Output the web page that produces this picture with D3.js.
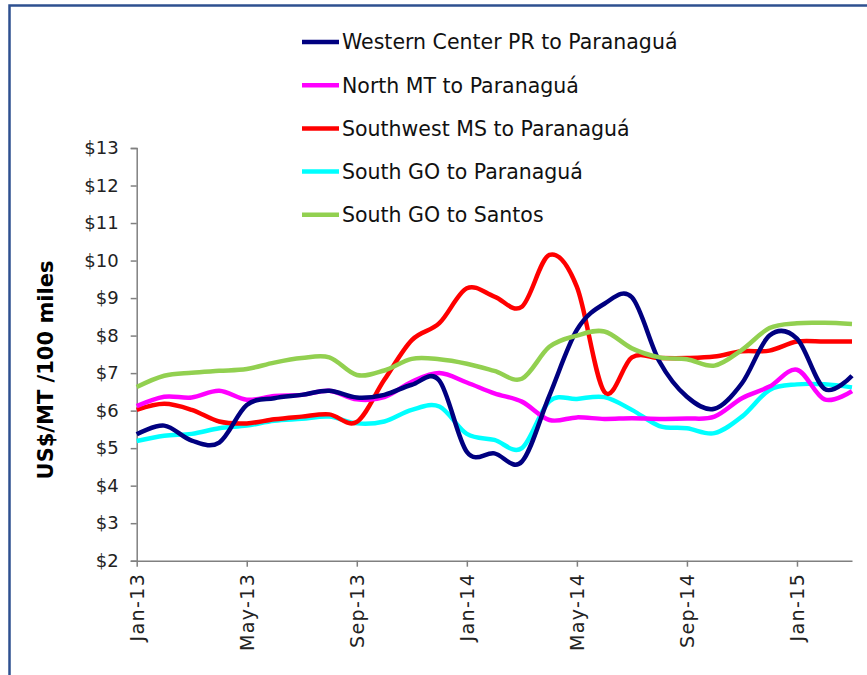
<!DOCTYPE html>
<html>
<head>
<meta charset="utf-8">
<script src="https://cdn.jsdelivr.net/npm/d3@7"></script>
<style>
  body { margin: 0; background: #fff; }
  svg text { font-family: "DejaVu Sans", sans-serif; }
</style>
</head>
<body>
<svg width="867" height="675"></svg>
<script>
  // months Jan-13 .. Mar-15
  var months = ["Jan-13","Feb-13","Mar-13","Apr-13","May-13","Jun-13","Jul-13","Aug-13","Sep-13","Oct-13","Nov-13","Dec-13",
                "Jan-14","Feb-14","Mar-14","Apr-14","May-14","Jun-14","Jul-14","Aug-14","Sep-14","Oct-14","Nov-14","Dec-14",
                "Jan-15","Feb-15","Mar-15"];
  var tickLabels = ["Jan-13","May-13","Sep-13","Jan-14","May-14","Sep-14","Jan-15"];
  var yTicks = [2,3,4,5,6,7,8,9,10,11,12,13];

  var westernPR = [5.37,5.6,5.2,5.15,6.15,6.33,6.42,6.53,6.35,6.42,6.69,6.8,4.9,4.86,4.64,6.4,8.15,8.85,9.02,7.31,6.37,6.05,6.73,8.0,7.92,6.58,6.93];
  var northMT   = [6.12,6.37,6.35,6.53,6.29,6.39,6.42,6.53,6.3,6.36,6.77,7.0,6.75,6.46,6.24,5.75,5.82,5.78,5.8,5.78,5.79,5.84,6.33,6.64,7.09,6.3,6.52];
  var southwestMS = [6.02,6.18,6.02,5.71,5.66,5.77,5.84,5.9,5.7,6.82,7.88,8.33,9.26,9.04,8.77,10.15,9.3,6.5,7.42,7.4,7.4,7.44,7.58,7.6,7.84,7.84,7.84];
  var southGOPar = [5.19,5.33,5.38,5.53,5.6,5.73,5.78,5.84,5.66,5.71,6.02,6.11,5.38,5.22,5.0,6.25,6.31,6.36,6.02,5.59,5.53,5.4,5.84,6.55,6.7,6.7,6.62];
  var southGOSantos = [6.63,6.93,7.01,7.06,7.11,7.28,7.4,7.42,6.95,7.07,7.38,7.37,7.25,7.06,6.85,7.7,8.0,8.11,7.66,7.42,7.37,7.2,7.62,8.2,8.33,8.34,8.31];

  var seriesNames = ["Western Center PR to Paranaguá","North MT to Paranaguá","Southwest MS to Paranaguá","South GO to Paranaguá","South GO to Santos"];
  var seriesColors = ["#000080","#ff00ff","#ff0000","#00ffff","#92d050"];
  var seriesValues = [westernPR, northMT, southwestMS, southGOPar, southGOSantos];

  var svg = d3.select("svg");

  // outer frame (right and bottom edges fall outside the window)
  svg.append("rect")
      .attr("x", 9.5).attr("y", 5.5)
      .attr("width", 900).attr("height", 700)
      .attr("fill", "none")
      .attr("stroke", "#2e5090")
      .attr("stroke-width", 2.5);

  var x = d3.scalePoint().domain(months).range([136.7, 852]);
  var y = d3.scaleLinear().domain([2, 13]).range([560.7, 148]);

  // y axis
  var yAxis = svg.append("g")
      .attr("transform", "translate(136.7,0)")
      .call(d3.axisLeft(y).tickValues(yTicks).tickSize(6).tickPadding(12)
        .tickFormat(function (d) { return "$" + d; }));
  yAxis.select(".domain").attr("stroke", "#808080").attr("stroke-width", 1.5);
  yAxis.selectAll(".tick line").attr("stroke", "#808080").attr("stroke-width", 1.5);
  yAxis.selectAll(".tick text")
      .attr("font-size", 18).attr("fill", "#222")
      .style("font-family", "\"DejaVu Sans\", sans-serif");

  // x axis
  var xAxis = svg.append("g")
      .attr("transform", "translate(0,560.7)")
      .call(d3.axisBottom(x).tickValues(tickLabels).tickSize(6).tickSizeOuter(0));
  xAxis.select(".domain").attr("stroke", "#808080").attr("stroke-width", 1.5);
  xAxis.selectAll(".tick line").attr("stroke", "#808080").attr("stroke-width", 1.5);
  xAxis.selectAll(".tick text")
      .attr("font-size", 19).attr("fill", "#222")
      .attr("letter-spacing", 1.4)
      .attr("text-anchor", "end")
      .attr("transform", "rotate(-90)")
      .attr("x", -12).attr("y", 0).attr("dy", "0.35em")
      .style("font-family", "\"DejaVu Sans\", sans-serif");

  // y title
  svg.append("text")
      .attr("transform", "translate(53,370) rotate(-90)")
      .attr("text-anchor", "middle")
      .attr("font-size", 21)
      .attr("font-weight", "bold")
      .attr("fill", "#000")
      .text("US$/MT /100 miles");

  var line = d3.line()
      .x(function (d, i) { return x(months[i]); })
      .y(function (d) { return y(d); })
      .curve(d3.curveCatmullRom.alpha(0));

  // drawing order so green sits on top like the reference
  var order = [3, 2, 1, 0, 4];
  svg.selectAll("path.series").data(order).enter()
      .append("path")
      .attr("class", "series")
      .attr("fill", "none")
      .attr("stroke", function (k) { return seriesColors[k]; })
      .attr("stroke-width", 4.5)
      .attr("stroke-linejoin", "round")
      .attr("d", function (k) { return line(seriesValues[k]); });

  // legend
  var legend = svg.selectAll("g.legend").data(seriesNames).enter()
      .append("g")
      .attr("class", "legend")
      .attr("transform", function (d, i) { return "translate(302," + (42 + i * 43.2) + ")"; });
  legend.append("line")
      .attr("x1", 0).attr("x2", 37)
      .attr("stroke", function (d, i) { return seriesColors[i]; })
      .attr("stroke-width", 4.5);
  legend.append("text")
      .attr("x", 40).attr("dy", "0.36em")
      .attr("font-size", 20.5)
      .attr("fill", "#111")
      .text(function (d) { return d; });
</script>
</body>
</html>
